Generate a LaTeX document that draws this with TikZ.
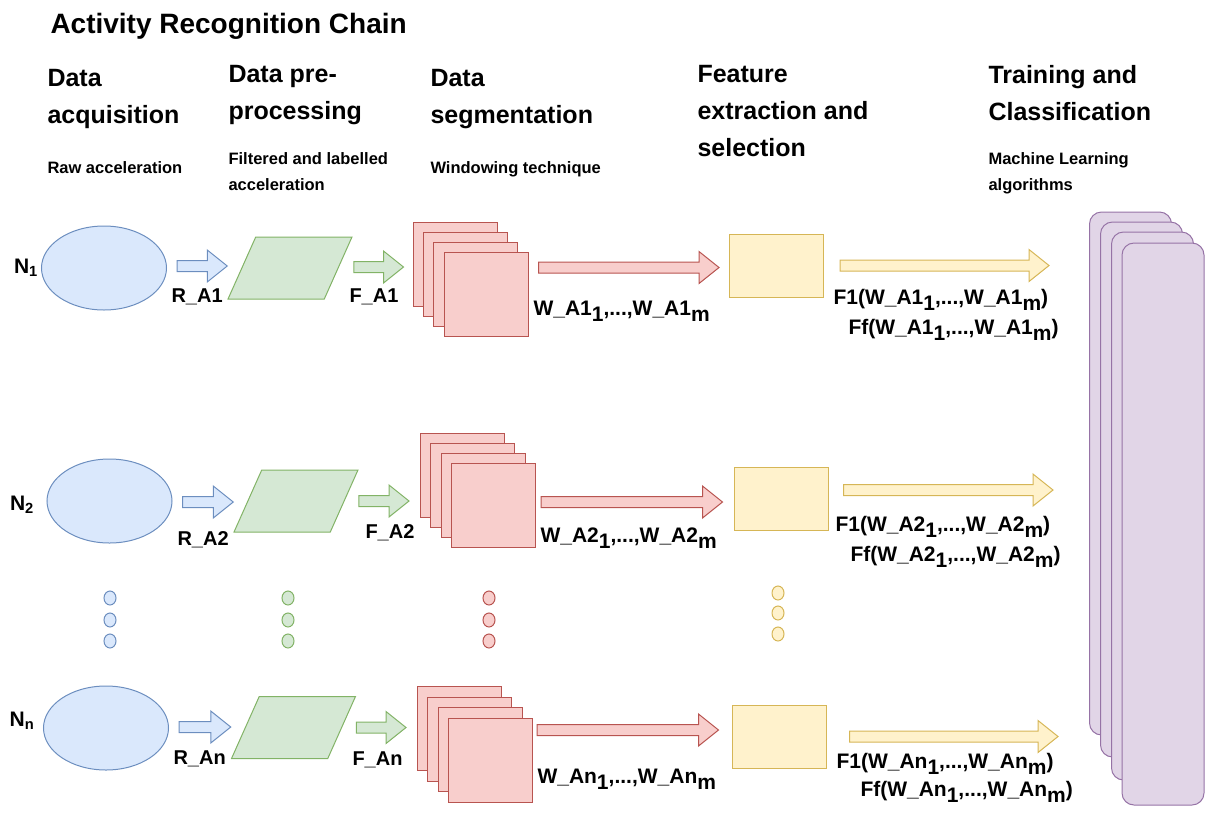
\documentclass[tikz,border=0pt]{standalone}
\usepackage{fontspec}
\setmainfont{Liberation Sans}
\usepackage{xcolor}
\usetikzlibrary{shapes.geometric,calc}
\definecolor{acqfill}{HTML}{DAE8FC}
\definecolor{acqline}{HTML}{6C8EBF}
\definecolor{prefill}{HTML}{D5E8D4}
\definecolor{preline}{HTML}{82B366}
\definecolor{winfill}{HTML}{F8CECC}
\definecolor{winline}{HTML}{B85450}
\definecolor{featfill}{HTML}{FFF2CC}
\definecolor{featline}{HTML}{D6B656}
\definecolor{clsfill}{HTML}{E1D5E7}
\definecolor{clsline}{HTML}{9673A6}
\newcommand{\lowsub}[1]{\raisebox{-6pt}{#1}}
\newcommand{\blockarrow}[3]{\draw[#1] let \p1=#2, \p2=#3 in (\x1,\y1-5.5pt) -- (\x2-20pt,\y1-5.5pt) -- (\x2-20pt,\y1-16pt) -- (\x2,\y1) -- (\x2-20pt,\y1+16pt) -- (\x2-20pt,\y1+5.5pt) -- (\x1,\y1+5.5pt) -- cycle;}

\begin{document}
\begin{tikzpicture}[x=1pt,y=-1pt,line width=1pt,ttl/.style={anchor=base west,inner sep=0,font=\fontsize{28}{34}\selectfont\bfseries},hdr/.style={anchor=north west,inner sep=0,align=left,font=\fontsize{25}{37}\selectfont\bfseries},subhdr/.style={anchor=north west,inner sep=0,align=left,font=\fontsize{16.5}{26}\selectfont\bfseries},nlbl/.style={inner sep=0,font=\fontsize{21}{24}\selectfont\bfseries},lbl/.style={anchor=west,inner sep=0,font=\fontsize{20}{24}\selectfont\bfseries},wlbl/.style={anchor=west,inner sep=0,font=\fontsize{21}{25}\selectfont\bfseries},acq/.style={ellipse,draw=acqline,fill=acqfill,minimum width=125pt,minimum height=84pt,inner sep=0},pre/.style={trapezium,trapezium left angle=68,trapezium right angle=112,trapezium stretches=true,draw=preline,fill=prefill,minimum width=124pt,minimum height=62pt,inner sep=2pt},win/.style={rectangle,draw=winline,fill=winfill,minimum size=84pt,inner sep=0},feat/.style={rectangle,draw=featline,fill=featfill,minimum width=94pt,minimum height=63pt,inner sep=0},cls/.style={rectangle,draw=clsline,fill=clsfill,rounded corners=12pt,minimum width=82pt,inner sep=0},dot/.style={ellipse,minimum width=12pt,minimum height=14pt,inner sep=0},acqarrow/.style={draw=acqline,fill=acqfill},prearrow/.style={draw=preline,fill=prefill},winarrow/.style={draw=winline,fill=winfill},featarrow/.style={draw=featline,fill=featfill}]
\useasboundingbox (0,0) rectangle (1205,812);
% headings
\node[ttl] (title) at (50,33) {Activity Recognition Chain};
\node[hdr] (hacq) at (47,69) {Data\\acquisition};
\node[hdr] (hpre) at (228,65) {Data pre-\\processing};
\node[hdr] (hseg) at (430,69) {Data\\segmentation};
\node[hdr] (hfeat) at (697,65) {Feature\\extraction and\\selection};
\node[hdr] (hcls) at (988,65) {Training and\\Classification};
\node[subhdr] (sacq) at (47,161) {Raw acceleration};
\node[subhdr] (spre) at (228,152) {Filtered and labelled\\acceleration};
\node[subhdr] (sseg) at (430,161) {Windowing technique};
\node[subhdr] (scls) at (988,152) {Machine Learning\\algorithms};
% classifier stack
\node[cls,minimum height=523pt] (tc1) at (1130.5,473.5) {};
\node[cls,minimum height=535pt] (tc2) at (1141.5,489.5) {};
\node[cls,minimum height=548pt] (tc3) at (1152.5,506) {};
\node[cls,minimum height=562pt] (tc4) at (1163,524) {};
% row 1
\node[nlbl] (n1) at (26,268) {N\textsubscript{1}};
\node[acq] (acq1) at (104,268) {};
\node[pre] (pre1) at (290,268) {};
\foreach \k in {0,...,3} \node[win] (win1-\k) at (455+10.4*\k,264+10*\k) {};
\node[feat] (feat1) at (776.5,265.5) {};
\blockarrow{acqarrow}{($(acq1.east)+(10,-2)$)}{(pre1.bottom left corner)}
\blockarrow{prearrow}{($(pre1.top right corner |- pre1.center)+(1,-1)$)}{($(win1-0.west)+(-9,0)$)}
\blockarrow{winarrow}{($(win1-3.east |- feat1.center)+(10,2)$)}{($(feat1.west)+(-10,0)$)}
\blockarrow{featarrow}{($(feat1.east)+(16,0)$)}{($(tc1.west)+(-40,0)$)}
\node[lbl] (r1) at (171,297) {R\_A1};
\node[lbl] (f1) at (349,297) {F\_A1};
\node[wlbl] (w1) at (533,311) {W\_A1\lowsub{1},...,W\_A1\lowsub{m}};
\node[wlbl] (fa1) at (833,300) {F1(W\_A1\lowsub{1},...,W\_A1\lowsub{m})};
\node[wlbl] (ff1) at (848,330) {Ff(W\_A1\lowsub{1},...,W\_A1\lowsub{m})};
% row 2
\node[nlbl] (n2) at (22,505) {N\textsubscript{2}};
\node[acq] (acq2) at (109.5,501) {};
\node[pre] (pre2) at (296,501) {};
\foreach \k in {0,...,3} \node[win] (win2-\k) at (462.5+10.4*\k,475+10.3*\k) {};
\node[feat] (feat2) at (781.5,499) {};
\blockarrow{acqarrow}{($(acq2.east)+(10,1)$)}{(pre2.bottom left corner)}
\blockarrow{prearrow}{(pre2.top right corner |- pre2.center)}{($(win2-0.west)+(-11,0)$)}
\blockarrow{winarrow}{($(win2-3.east |- feat2.center)+(5,3)$)}{($(feat2.west)+(-11.5,0)$)}
\blockarrow{featarrow}{($(feat2.east)+(14.5,-9)$)}{($(tc1.west)+(-36,0)$)}
\node[lbl] (r2) at (177,540) {R\_A2};
\node[lbl] (f2) at (365,533) {F\_A2};
\node[wlbl] (w2) at (540,538) {W\_A2\lowsub{1},...,W\_A2\lowsub{m}};
\node[wlbl] (fa2) at (835,527) {F1(W\_A2\lowsub{1},...,W\_A2\lowsub{m})};
\node[wlbl] (ff2) at (850,557) {Ff(W\_A2\lowsub{1},...,W\_A2\lowsub{m})};
% dots
\foreach \c/\x in {acq/110,pre/288,win/489}
  \foreach \k/\y in {1/598,2/620,3/641}
    \node[dot,draw=\c line,fill=\c fill] (dot\c\k) at (\x,\y) {};
\foreach \k/\y in {1/593,2/613,3/634}
  \node[dot,draw=featline,fill=featfill] (dotfeat\k) at (778,\y) {};
% row n
\node[nlbl] (n3) at (22,721) {N\textsubscript{n}};
\node[acq] (acq3) at (106,728) {};
\node[pre] (pre3) at (293.5,727.5) {};
\foreach \k in {0,...,3} \node[win] (win3-\k) at (459.5+10.4*\k,728.5+10.5*\k) {};
\node[feat] (feat3) at (779,736.5) {};
\blockarrow{acqarrow}{($(acq3.east)+(10,-1)$)}{(pre3.bottom left corner)}
\blockarrow{prearrow}{(pre3.top right corner |- pre3.center)}{($(win3-0.west)+(-11,0)$)}
\blockarrow{winarrow}{($(win3-3.east |- feat3.center)+(4,-6.5)$)}{($(feat3.west)+(-13,0)$)}
\blockarrow{featarrow}{($(feat3.east)+(23,0)$)}{($(tc1.west)+(-31,0)$)}
\node[lbl] (r3) at (173,759) {R\_An};
\node[lbl] (f3) at (352,760) {F\_An};
\node[wlbl] (w3) at (537,779) {W\_An\lowsub{1},...,W\_An\lowsub{m}};
\node[wlbl] (fa3) at (836,764) {F1(W\_An\lowsub{1},...,W\_An\lowsub{m})};
\node[wlbl] (ff3) at (860,792) {Ff(W\_An\lowsub{1},...,W\_An\lowsub{m})};
\end{tikzpicture}
\end{document}
